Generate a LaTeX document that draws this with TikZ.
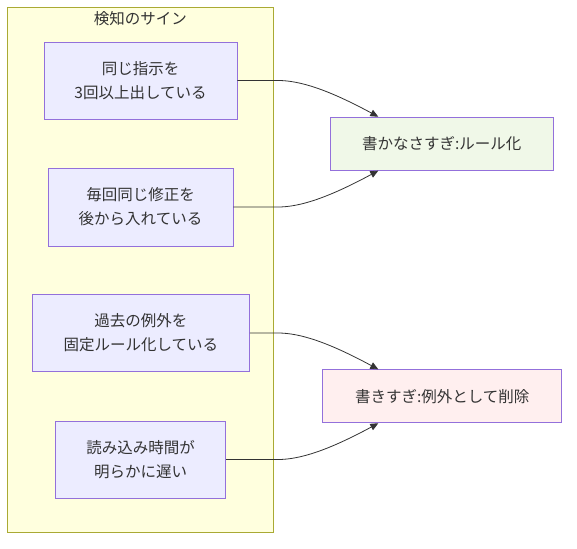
\documentclass[tikz,border=0pt]{standalone}
\usepackage{fontspec}
\setmainfont{Noto Sans CJK JP}
\usepackage{tikz}
\usetikzlibrary{arrows.meta}
\definecolor{txtgray}{HTML}{333333}
\definecolor{nodefill}{HTML}{ECECFF}
\definecolor{nodeline}{HTML}{9370DB}
\definecolor{clusterfill}{HTML}{FFFFDE}
\definecolor{clusterline}{HTML}{AAAA33}
\definecolor{fixfill}{HTML}{F0F8E8}
\definecolor{cutfill}{HTML}{FFEFEF}
\tikzset{
    sign/.style={draw=nodeline, fill=nodefill, line width=0.9pt, align=center, text=txtgray}, % 検知ノードの样式
    result/.style={sign, minimum height=53pt}, % 右側の結果ノード
    flow/.style={draw=txtgray, line width=0.8pt, -{Triangle[length=8pt, width=7pt]}} % 矢印の通用样式
}

\begin{document}
\begin{tikzpicture}[x=1pt, y=-1pt, font=\fontsize{15.5}{24}\selectfont]
            
            \useasboundingbox (0,0) rectangle (577,548);
            \draw[clusterline, fill=clusterfill, line width=0.9pt] (7.5,7.5) rectangle (273.3,532.3);
            \node[text=txtgray] (title) at (140.4,19) {検知のサイン};
            
            \node[sign, minimum width=193pt, minimum height=77pt] (s1) at (140.5,80.5) {同じ指示を\\3回以上出している};
            \node[sign, minimum width=185pt, minimum height=78pt] (s2) at (140.5,207) {毎回同じ修正を\\後から入れている};
            \node[sign, minimum width=217pt, minimum height=77pt] (s3) at (140.8,333) {過去の例外を\\固定ルール化している};
            \node[sign, minimum width=170pt, minimum height=77pt] (s4) at (140.7,459.5) {読み込み時間が\\明らかに遅い};
            
            \node[result, fill=fixfill, minimum width=223pt] (fixA) at (441.8,143.7) {書かなさすぎ:ルール化};
            \node[result, fill=cutfill, minimum width=239pt] (fixB) at (442.2,396.3) {書きすぎ:例外として削除};
            
            \coordinate (bend) at (278,0);
            \coordinate (ta) at ([xshift=-63.5pt]fixA.north);
            \coordinate (tb) at ([xshift=-63.5pt]fixA.south);
            \coordinate (tc) at ([xshift=-63.9pt]fixB.north);
            \coordinate (td) at ([xshift=-63.9pt]fixB.south);
            \foreach \s/\t/\dy in {s1/ta/-27, s2/tb/27, s3/tc/-27, s4/td/27} {
                \draw[flow] (\s.east) -- (\s.east -| bend) .. controls +(22,0) and +(-50,\dy) .. (\t);}
        \end{tikzpicture}
\end{document}
